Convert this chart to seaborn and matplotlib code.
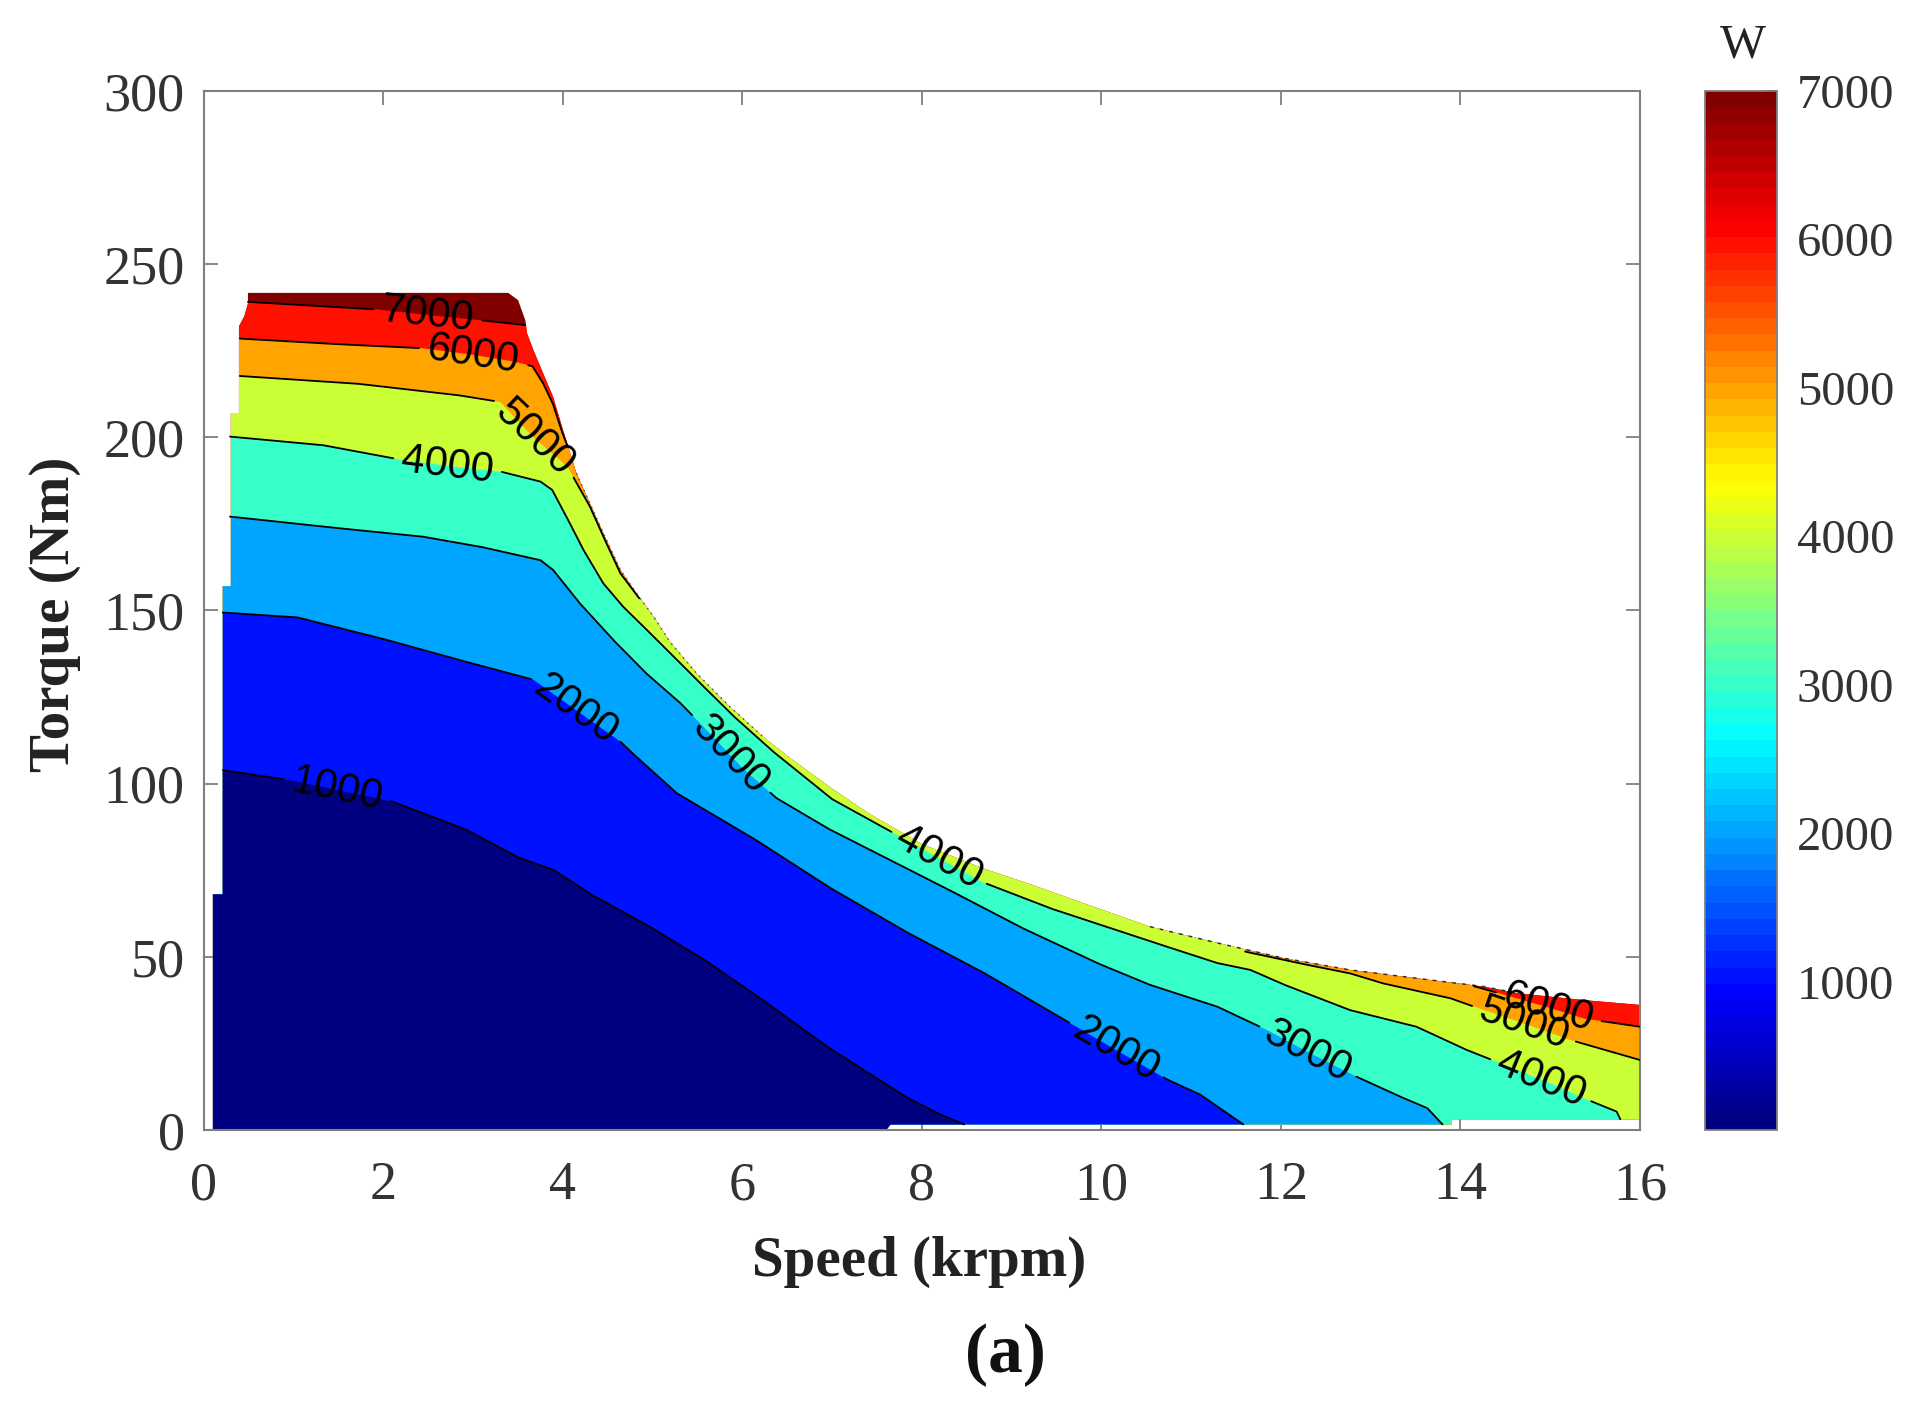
import numpy as np
import matplotlib
matplotlib.use("Agg")
import matplotlib.pyplot as plt
import seaborn as sns
from matplotlib.cm import ScalarMappable
from matplotlib.colors import ListedColormap, Normalize
from matplotlib.patches import Polygon

# operating region: upper edge (left to right) and lower edge (right to left)
edge_speed = [0.10, 0.10, 0.21, 0.21, 0.30, 0.30, 0.39, 0.39, 0.45, 0.49,
              0.49, 3.39, 3.50, 3.58, 3.60, 3.67, 3.78, 3.89, 3.99, 4.15,
              4.30, 4.45, 4.64, 4.82, 5.01, 5.19, 5.49, 5.86, 6.23, 6.55,
              7.00, 7.40, 8.00, 8.68, 9.20, 9.74, 10.54, 11.29, 12.03, 12.77,
              13.51, 14.26, 14.63, 15.37, 16.00]
edge_torque = [0, 68, 68, 157, 157, 207, 207, 232, 235, 238.6,
               241.7, 241.7, 239.6, 233.8, 230.0, 225.2, 218.4, 211.7, 203.0, 189.6,
               180.9, 172.3, 161.7, 154.9, 148.2, 141.0, 131.8, 122.2, 113.5, 107.0,
               98.5, 91.5, 82.5, 75.5, 71.0, 66.0, 58.7, 54.0, 49.6, 46.2,
               43.8, 41.4, 39.5, 37.5, 36.1]
floor_speed = [16.0, 13.9, 13.9, 7.65, 7.60, 0.10]
floor_torque = [3.1, 3.1, 1.6, 1.6, 0, 0]

# iso-loss lines (W)
loss7000_speed = [0.49, 1.20, 1.93, 2.50, 3.08, 3.58]
loss7000_torque = [239.1, 238.0, 236.9, 235.3, 233.8, 232.4]

loss6000_speed = [0.40, 1.40, 2.44, 3.00, 3.47, 3.66, 3.78, 3.89, 3.99, 4.05]
loss6000_torque = [228.5, 227.0, 225.7, 223.8, 221.8, 220.5, 215.5, 209.5, 201.5, 197.5]
loss6000_hi_speed = [14.15, 14.44, 15.00, 15.37, 16.00]
loss6000_hi_torque = [41.5, 39.4, 35.2, 32.2, 29.8]

loss5000_speed = [0.40, 1.70, 2.82, 3.30, 3.65, 4.05, 4.30, 4.45, 4.64, 4.85]
loss5000_torque = [217.7, 215.5, 212.2, 210.2, 200.5, 191.5, 180.0, 171.3, 160.7, 153.5]
loss5000_hi_speed = [11.60, 12.21, 12.77, 13.14, 13.89, 14.26, 14.70, 15.22, 16.00]
loss5000_hi_torque = [51.5, 48.1, 45.2, 42.3, 38.0, 34.6, 30.8, 26.0, 20.2]

loss4000_speed = [0.29, 1.33, 2.22, 2.80, 3.32, 3.75, 3.88, 4.04, 4.23, 4.45,
                  4.67, 4.86, 5.16, 5.49, 5.90, 6.33, 7.00, 7.70, 8.68, 9.43,
                  10.54, 11.29, 11.66, 12.03, 12.77, 13.51, 14.07, 14.44, 15.00, 15.37,
                  15.74, 15.78]
loss4000_torque = [200.2, 197.7, 193.4, 191.5, 190.0, 187.2, 184.8, 177.0, 167.4, 157.8,
                   151.1, 146.3, 138.6, 130.0, 119.5, 109.5, 95.5, 85.5, 71.5, 64.0,
                   54.5, 48.2, 46.2, 42.0, 34.6, 29.8, 23.1, 19.3, 13.5, 9.2,
                   5.3, 3.1]

loss3000_speed = [0.29, 1.33, 2.44, 3.08, 3.75, 3.89, 4.19, 4.56, 4.93, 5.31,
                  5.60, 6.00, 6.38, 6.97, 7.60, 8.25, 9.11, 9.96, 10.54, 11.29,
                  11.84, 12.30, 12.84, 13.33, 13.63, 13.80]
loss3000_torque = [177.1, 174.2, 171.3, 168.4, 164.5, 161.7, 152.0, 141.5, 131.8, 123.2,
                   115.5, 104.5, 95.8, 86.8, 78.5, 70.0, 58.4, 48.1, 41.9, 35.6,
                   28.9, 22.5, 15.4, 9.6, 6.3, 1.6]

loss2000_speed = [0.21, 1.04, 1.98, 2.83, 3.67, 4.13, 4.64, 4.79, 5.27, 6.12,
                  6.97, 7.83, 8.68, 9.70, 10.20, 10.73, 11.10, 11.58]
loss2000_torque = [149.4, 148.0, 141.9, 135.8, 130.0, 121.5, 112.1, 108.4, 97.2, 84.2,
                   70.0, 57.1, 45.5, 30.1, 22.5, 14.6, 10.2, 1.6]

loss1000_speed = [0.21, 1.00, 2.10, 2.92, 3.51, 3.90, 4.32, 4.96, 5.60, 6.20,
                  6.97, 7.83, 8.20, 8.47]
loss1000_torque = [103.9, 100.8, 94.8, 86.7, 78.6, 75.0, 67.9, 58.8, 48.7, 38.0,
                   23.6, 9.4, 4.5, 1.6]

levels = [1000, 2000, 3000, 4000, 5000, 6000, 7000]
speed_ticks = [0, 2, 4, 6, 8, 10, 12, 14, 16]
torque_ticks = [0, 50, 100, 150, 200, 250, 300]

contours = {
    7000: [(loss7000_speed, loss7000_torque)],
    6000: [(loss6000_speed, loss6000_torque), (loss6000_hi_speed, loss6000_hi_torque)],
    5000: [(loss5000_speed, loss5000_torque), (loss5000_hi_speed, loss5000_hi_torque)],
    4000: [(loss4000_speed, loss4000_torque)],
    3000: [(loss3000_speed, loss3000_torque)],
    2000: [(loss2000_speed, loss2000_torque)],
    1000: [(loss1000_speed, loss1000_torque)],
}

# (level, piece, speed where the inline label sits)
label_spots = [(7000, 0, 2.50), (6000, 0, 3.00), (5000, 0, 3.69), (4000, 0, 2.70),
               (4000, 0, 8.19), (4000, 0, 14.90), (3000, 0, 5.86), (3000, 0, 12.30),
               (2000, 0, 4.15), (2000, 0, 10.17), (1000, 0, 1.48),
               (6000, 1, 14.97), (5000, 1, 14.70)]

sns.set_theme(style="white")
plt.rcParams["font.family"] = ["Liberation Serif", "DejaVu Serif"]

# matlab style jet, 64 steps
jet64 = ListedColormap(sns.blend_palette(
    [(0, 0, .5), (0, 0, 1), (0, .5, 1), (0, 1, 1), (.5, 1, .5),
     (1, 1, 0), (1, .5, 0), (1, 0, 0), (.5, 0, 0)], n_colors=64))
norm = Normalize(0, 7000)

fig = plt.figure(figsize=(19.26, 14.19), dpi=100)
ax = fig.add_axes([0.1059, 0.2037, 0.7456, 0.7322])
ax.set_xlim(0, 16)
ax.set_ylim(0, 300)

region = Polygon(np.column_stack([edge_speed + floor_speed, edge_torque + floor_torque]),
                 closed=True, facecolor=jet64(norm(7000)), edgecolor="none", zorder=1)
ax.add_patch(region)


def below(segments):
    pts = []
    for sx, ty in segments:
        pts.append((-1, ty[0]) if sx[0] < 1 else (sx[0], 320))
        pts += list(zip(sx, ty))
        if sx[-1] >= 16:
            pts.append((17, ty[-1]))
        elif ty[-1] < 5:
            pts.append((sx[-1], -10))
        else:
            pts.append((sx[-1], 320))
    end = pts[-1]
    if end[1] == 320:
        pts.append((17, 320))
    if end[1] != -10:
        pts.append((17, -10))
    pts.append((-1, -10))
    return pts


for level in sorted(contours, reverse=True):
    band = Polygon(below(contours[level]), closed=True,
                   facecolor=jet64(norm(level - 1000)), edgecolor="none", zorder=1)
    ax.add_patch(band)
    band.set_clip_path(region)

# ragged edge of the region shows as broken dark marks in the original
es = np.array(edge_speed)
et = np.array(edge_torque)
hi = (es >= 10.3) & (es <= 15.0)
ax.plot(es[hi], et[hi], color="#333333", lw=1.1, ls=(0, (2.5, 4)), zorder=3)
mid = (es >= 4.15) & (es <= 6.3)
ax.plot(es[mid], et[mid], color="#555555", lw=1.1, ls=(0, (1, 3)), zorder=3)


def trace(sx, ty):
    pts = ax.transData.transform(np.column_stack([sx, ty]))
    out = [pts[:1]]
    for a, b in zip(pts[:-1], pts[1:]):
        n = max(int(np.hypot(*(b - a)) // 2), 1)
        out.append(a + (b - a) * (np.arange(1, n + 1)[:, None] / n))
    return np.vstack(out)


inv = ax.transData.inverted()
gap = 54
for level, segs in contours.items():
    for k, (sx, ty) in enumerate(segs):
        path = trace(sx, ty)
        keep = np.ones(len(path), bool)
        for lv, kk, s0 in label_spots:
            if lv != level or kk != k:
                continue
            x0 = ax.transData.transform((s0, 0))[0]
            i = int(np.argmin(np.abs(path[:, 0] - x0)))
            a = path[max(i - 10, 0)]
            b = path[min(i + 10, len(path) - 1)]
            ang = np.degrees(np.arctan2(b[1] - a[1], b[0] - a[0]))
            keep &= np.hypot(*(path - path[i]).T) > gap
            cx, cy = inv.transform(path[i])
            ax.text(cx, cy, f"{level}", rotation=ang, rotation_mode="anchor",
                    ha="center", va="center", fontsize=30, color="black",
                    family=["Liberation Sans", "DejaVu Sans"], zorder=5)
        line = inv.transform(path)
        line[~keep] = np.nan
        ax.plot(line[:, 0], line[:, 1], color="black", lw=1.3, zorder=4)

ax.set_xticks(speed_ticks)
ax.set_yticks(torque_ticks)
ax.tick_params(direction="in", length=10, width=1.3, color="#7f7f7f",
               bottom=True, left=True, top=True, right=True,
               labelsize=39, labelcolor="#333333")
ax.tick_params(axis="x", pad=22)
ax.tick_params(axis="y", pad=14)
for s in ax.spines.values():
    s.set_color("#7f7f7f")
    s.set_linewidth(1.5)
ax.set_facecolor("white")

fig.text(0.477, 0.111, "Speed (krpm)", fontsize=41, fontweight="bold",
         color="#222222", ha="center", va="center")
fig.text(0.0286, 0.567, "Torque (Nm)", fontsize=41, fontweight="bold",
         color="#222222", ha="center", va="center", rotation=90)
fig.text(0.522, 0.045, "(a)", fontsize=50, fontweight="bold",
         color="#111111", ha="center", va="center")

cax = fig.add_axes([0.8853, 0.2037, 0.0374, 0.7322])
cb = fig.colorbar(ScalarMappable(norm=norm, cmap=jet64), cax=cax, ticks=levels)
cb.outline.set_edgecolor("#7f7f7f")
cb.outline.set_linewidth(1.3)
cax.tick_params(direction="in", length=8, width=1.3, color="#333333",
                labelsize=35, labelcolor="#333333", pad=14, right=True, left=False)
fig.text(0.905, 0.968, "W", fontsize=35, color="#222222", ha="center", va="center")

fig.savefig("out.png", dpi=100)
